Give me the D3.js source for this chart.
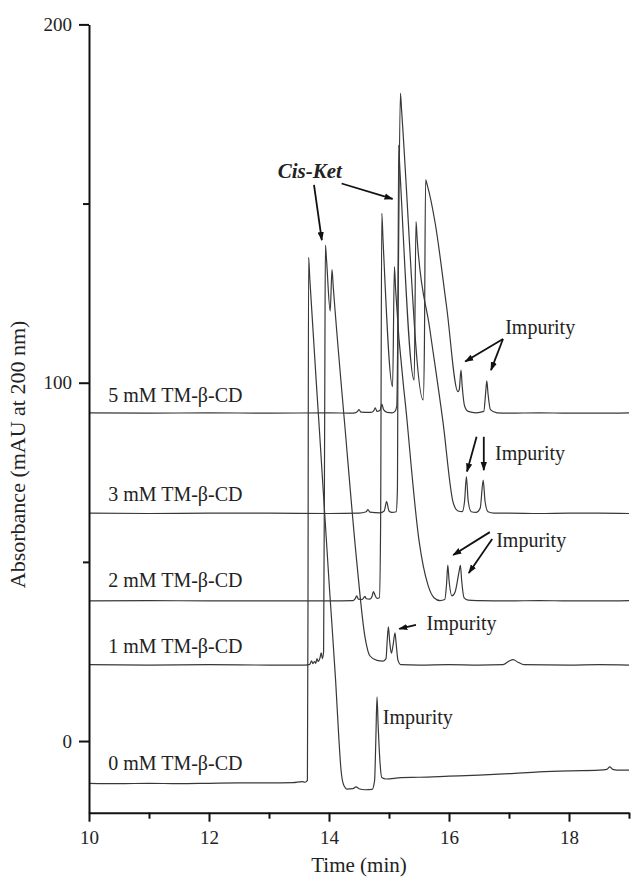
<html>
<head>
<script src="https://d3js.org/d3.v7.min.js"></script>
<style>
body { margin: 0; background: #fff; }
text { font-family: "Liberation Serif", "Times New Roman", serif; fill: #222; }
</style>
</head>
<body>
<script>
// tick values
var timeTicks = [10, 12, 14, 16, 18];
var timeMinor = [11, 13, 15, 17, 19];
var absTicks = [0, 100, 200];
var absMinor = [50, 150];

// chromatograms, [time (min), absorbance (mAU)]
var trace0 = [[10,-11.8],[10.5,-11.9],[11,-11.8],[11.5,-11.9],[12,-11.8],[12.5,-11.7],[13,-11.7],[13.4,-11.6],[13.55,-11.3],[13.6,-11.5],[13.64,-11],[13.65,40],[13.66,135],[13.68,129],[13.84,86.8],[14.01,42],[14.11,17],[14.16,2],[14.2,-8],[14.25,-12.5],[14.3,-13.4],[14.4,-13.3],[14.45,-12.8],[14.5,-13.3],[14.6,-13.6],[14.72,-13.5],[14.76,-11],[14.78,0],[14.8,12.3],[14.82,4],[14.85,-6],[14.88,-10.2],[14.95,-10.6],[15.2,-10.2],[15.5,-10.1],[16,-9.8],[16.5,-9.5],[17,-9.1],[17.5,-8.6],[18,-8.3],[18.5,-8.1],[18.63,-7.9],[18.68,-7.2],[18.73,-7.9],[18.8,-8.1],[19,-8.1]];
var trace1 = [[10,21.3],[11,21.2],[12,21.3],[13,21.2],[13.6,21.2],[13.68,21.4],[13.71,22.4],[13.73,21.6],[13.76,22.2],[13.78,21.7],[13.8,23],[13.82,22.2],[13.85,23.2],[13.87,24.6],[13.89,23],[13.91,25],[13.93,100],[13.94,138.4],[13.96,134],[14.02,120],[14.05,131.6],[14.07,127],[14.27,86.8],[14.46,50.5],[14.6,29],[14.68,23.8],[14.8,22.5],[14.9,22.3],[14.95,23],[14.97,28],[14.99,31.9],[15.01,28],[15.04,24.5],[15.07,27],[15.1,30.2],[15.12,27],[15.15,22.5],[15.2,21.3],[15.5,21.2],[16,21.3],[16.5,21.2],[16.9,21.3],[17.0,22.3],[17.07,22.7],[17.15,22],[17.25,21.3],[18,21.2],[18.5,21.3],[19,21.2]];
var trace2 = [[10,39.1],[11,39.2],[12,39.1],[13,39.1],[14,39.1],[14.4,39.2],[14.44,39.8],[14.46,40.5],[14.49,39.6],[14.55,39.5],[14.58,40],[14.6,40.4],[14.62,39.7],[14.68,39.6],[14.72,40.5],[14.74,41.7],[14.76,41],[14.8,39.8],[14.84,40],[14.86,60],[14.88,147.3],[14.9,140],[15.06,98.9],[15.09,132.4],[15.11,126],[15.3,89.6],[15.5,56],[15.65,43.5],[15.75,40],[15.85,39.2],[15.93,39.5],[15.96,44],[15.98,49.1],[16.0,45],[16.05,40.5],[16.1,41.5],[16.17,47.5],[16.19,49],[16.21,45],[16.25,40],[16.32,39.3],[16.5,39.2],[17,39.1],[17.5,39.2],[18,39.1],[18.5,39.1],[19,39.2]];
var trace3 = [[10,63.6],[11,63.5],[12,63.6],[13,63.6],[14,63.5],[14.5,63.6],[14.62,64],[14.65,64.6],[14.68,63.9],[14.85,63.7],[14.92,64.2],[14.96,66.8],[15.0,64.2],[15.05,63.8],[15.12,64],[15.14,70],[15.16,166.3],[15.18,160],[15.42,100.7],[15.45,145],[15.47,140],[15.68,115],[15.9,89],[16.07,66.5],[16.15,64.2],[16.22,64],[16.26,67],[16.29,73.8],[16.32,67],[16.37,64],[16.45,63.8],[16.52,65],[16.57,72.8],[16.6,67],[16.65,64],[16.75,63.6],[17,63.6],[17.5,63.5],[18,63.6],[18.5,63.6],[19,63.5]];
var trace5 = [[10,91.6],[11,91.5],[12,91.6],[13,91.5],[14,91.6],[14.4,91.5],[14.47,91.9],[14.5,92.5],[14.53,91.8],[14.7,91.7],[14.75,92.3],[14.77,93],[14.8,92],[14.85,92.3],[14.88,94],[14.91,92.5],[14.97,91.7],[15.05,91.6],[15.1,92],[15.13,93.5],[15.15,120],[15.19,180.8],[15.21,176],[15.57,95.2],[15.59,110],[15.61,156.6],[15.64,155],[15.77,144.5],[15.96,121.2],[16.15,97.5],[16.17,98],[16.2,103.5],[16.22,99],[16.26,93.5],[16.32,92],[16.45,91.6],[16.58,92],[16.61,97],[16.63,100.5],[16.65,97],[16.69,92.5],[16.8,91.6],[17,91.5],[17.5,91.6],[18,91.5],[18.5,91.5],[19,91.6]];

var traces = [trace0, trace1, trace2, trace3, trace5];
var conditions = ["0 mM TM-\u03b2-CD", "1 mM TM-\u03b2-CD", "2 mM TM-\u03b2-CD", "3 mM TM-\u03b2-CD", "5 mM TM-\u03b2-CD"];
var labelLevels = [-8.2, 24.5, 43, 67, 94.5];

var w = 631, h = 883;
var x = d3.scaleLinear().domain([10, 19]).range([89, 629]);
var y = d3.scaleLinear().domain([-20, 200]).range([812.7, 24.4]);

var svg = d3.select("body").append("svg")
	.attr("width", w)
	.attr("height", h);

svg.append("defs").append("marker")
	.attr("id", "head")
	.attr("viewBox", "0 0 10 10")
	.attr("refX", 9).attr("refY", 5)
	.attr("markerWidth", 9).attr("markerHeight", 9)
	.attr("markerUnits", "userSpaceOnUse")
	.attr("orient", "auto")
	.append("path")
	.attr("d", "M0,1.5L10,5L0,8.5z")
	.attr("fill", "#111");

// traces
var line = d3.line()
	.x(function(d) { return x(d[0]); })
	.y(function(d) { return y(d[1]); })
	.curve(d3.curveMonotoneX);

svg.selectAll("path.trace")
	.data(traces)
	.enter().append("path")
	.attr("class", "trace")
	.attr("d", line)
	.attr("fill", "none")
	.attr("stroke", "#383838")
	.attr("stroke-width", 1.2);

// axes
svg.append("g").attr("transform", "translate(0," + y(-20) + ")")
	.call(d3.axisBottom(x).tickValues(timeTicks).tickSize(9).tickSizeOuter(0).tickPadding(9));
svg.append("g").attr("transform", "translate(0," + y(-20) + ")")
	.call(d3.axisBottom(x).tickValues(timeMinor).tickSize(6).tickSizeOuter(0).tickFormat(""))
	.select(".domain").remove();
svg.append("g").attr("transform", "translate(" + x(10) + ",0)")
	.call(d3.axisLeft(y).tickValues(absTicks).tickSize(10).tickSizeOuter(0).tickPadding(7));
svg.append("g").attr("transform", "translate(" + x(10) + ",0)")
	.call(d3.axisLeft(y).tickValues(absMinor).tickSize(6).tickFormat(""))
	.select(".domain").remove();

svg.selectAll(".domain").attr("stroke", "#111").attr("stroke-width", 2);
svg.selectAll(".tick line").attr("stroke", "#111").attr("stroke-width", 2);
svg.selectAll(".tick text").attr("font-size", 19).attr("font-family", "Liberation Serif").attr("fill", "#222");

svg.append("text")
	.text("Time (min)")
	.attr("x", x(14.5)).attr("y", 872)
	.attr("text-anchor", "middle")
	.attr("font-size", 21);
svg.append("text")
	.text("Absorbance (mAU at 200 nm)")
	.attr("transform", "translate(25," + y(80) + ") rotate(-90)")
	.attr("text-anchor", "middle")
	.attr("font-size", 22);

// condition labels
svg.selectAll("text.cond")
	.data(conditions)
	.enter().append("text")
	.attr("class", "cond")
	.text(function(d) { return d; })
	.attr("x", x(10.32))
	.attr("y", function(d, i) { return y(labelLevels[i]); })
	.attr("font-size", 20);

// annotations
svg.append("text")
	.text("Cis-Ket")
	.attr("x", x(13.68)).attr("y", y(157))
	.attr("text-anchor", "middle")
	.attr("font-size", 21)
	.attr("font-weight", "bold")
	.attr("font-style", "italic");

var impurityLabels = [[15.48, 4.7], [16.21, 31], [17.37, 54.1], [17.35, 78.4], [17.52, 113.6]];
svg.selectAll("text.imp")
	.data(impurityLabels)
	.enter().append("text")
	.attr("class", "imp")
	.text("Impurity")
	.attr("x", function(d) { return x(d[0]); })
	.attr("y", function(d) { return y(d[1]); })
	.attr("text-anchor", "middle")
	.attr("font-size", 20);

var arrows = [
	[[13.75, 155.2], [13.88, 139.8]],
	[[14.21, 155.6], [15.06, 151.3]],
	[[15.45, 32.4], [15.17, 31.3]],
	[[16.68, 58.3], [16.07, 51.9]],
	[[16.72, 56.4], [16.33, 46.9]],
	[[16.46, 84.9], [16.3, 75.2]],
	[[16.58, 84.9], [16.58, 75.6]],
	[[16.9, 112.2], [16.27, 105.9]],
	[[16.9, 112.2], [16.7, 103.5]]
];
svg.selectAll("line.arrow")
	.data(arrows)
	.enter().append("line")
	.attr("class", "arrow")
	.attr("x1", function(d) { return x(d[0][0]); })
	.attr("y1", function(d) { return y(d[0][1]); })
	.attr("x2", function(d) { return x(d[1][0]); })
	.attr("y2", function(d) { return y(d[1][1]); })
	.attr("stroke", "#111")
	.attr("stroke-width", 1.8)
	.attr("marker-end", "url(#head)");
</script>
</body>
</html>
